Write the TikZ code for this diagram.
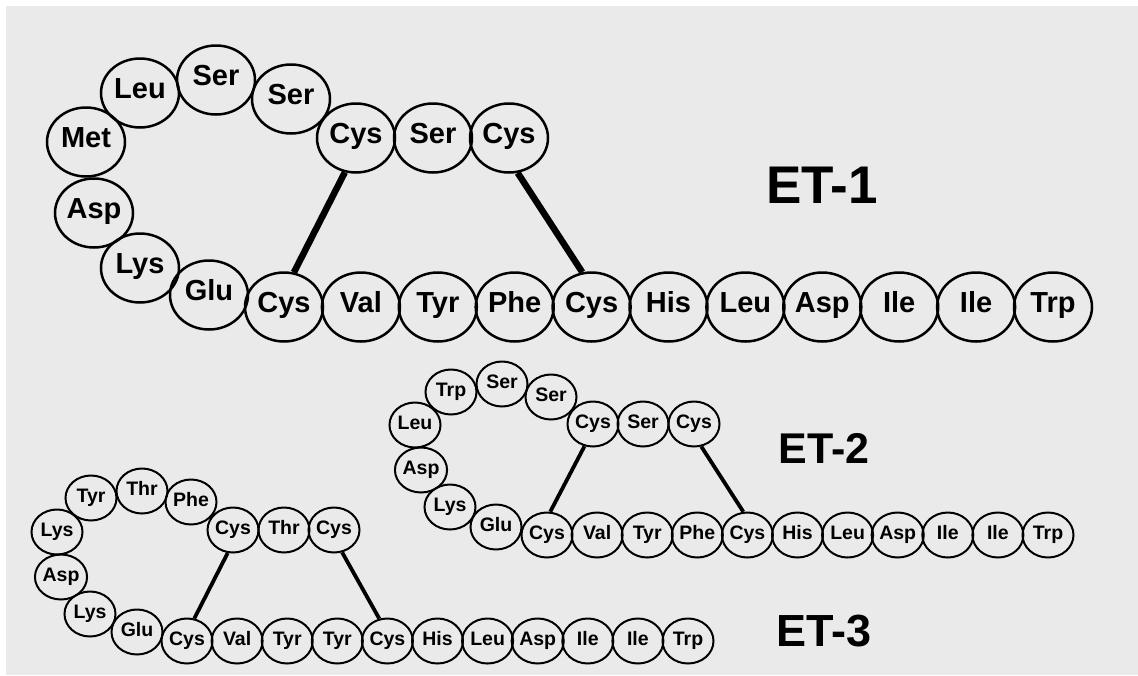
\documentclass[tikz,border=0pt]{standalone}
\usepackage{fontspec}
\setmainfont{Liberation Sans}
\usetikzlibrary{shapes.geometric}
\definecolor{paper}{RGB}{234,234,234}
\begin{document}
\begin{tikzpicture}[x=1pt,y=-1pt,
  big/.style={ellipse,draw,line width=2.5pt,minimum width=78pt,minimum height=69pt,inner sep=0pt,
    text height=1.0em,text depth=0pt,font=\fontsize{29}{29}\selectfont\bfseries},
  small/.style={ellipse,draw,line width=2pt,minimum width=51pt,minimum height=45pt,inner sep=0pt,
    text height=0.95em,text depth=0pt,font=\fontsize{19.5}{19.5}\selectfont\bfseries},
  bondA/.style={line width=6.5pt},
  bondB/.style={line width=3.8pt},
  title/.style={anchor=base,inner sep=0pt,font=\bfseries}]
\useasboundingbox (0,0) rectangle (1138,675);
\fill[white] (0,0) rectangle (1138,675);
\fill[paper] (6,6) rectangle (1138,675);

% ---------------- ET-1 ----------------
\node[big] (e1c1) at (356,138) {Cys};
\node[big] (e1s2) at (433,138) {Ser};
\node[big] (e1c3) at (509,138) {Cys};
\node[big] (e1s4) at (291,99) {Ser};
\node[big] (e1s5) at (216,80) {Ser};
\node[big] (e1l6) at (140,93) {Leu};
\node[big] (e1m7) at (86,142) {Met};
\node[big] (e1a8) at (94,213) {Asp};
\node[big] (e1k9) at (140,268) {Lys};
\node[big] (e1g10) at (209,295) {Glu};
\foreach \n/\t in {0/Cys,1/Val,2/Tyr,3/Phe,4/Cys,5/His,6/Leu,7/Asp,8/Ile,9/Ile,10/Trp}
  \node[big] (e1b\n) at ({284+76.9*\n},307) {\t};
\draw[bondA] (e1c1.-108) -- (e1b0.74);
\draw[bondA] (e1c3.-76) -- (e1b4.105);
\node[title,font=\fontsize{53}{53}\selectfont\bfseries] (t1) at (822,203) {ET-1};

% ---------------- ET-2 ----------------
\node[small] (e2c1) at (593,424) {Cys};
\node[small] (e2s2) at (643,424) {Ser};
\node[small] (e2c3) at (694,424) {Cys};
\node[small] (e2s4) at (551,397) {Ser};
\node[small] (e2s5) at (502,384) {Ser};
\node[small] (e2w6) at (451,392) {Trp};
\node[small] (e2l7) at (415,425) {Leu};
\node[small] (e2a8) at (421,470) {Asp};
\node[small] (e2k9) at (450,507) {Lys};
\node[small] (e2g10) at (496,527) {Glu};
\foreach \n/\t in {0/Cys,1/Val,2/Tyr,3/Phe,4/Cys,5/His,6/Leu,7/Asp,8/Ile,9/Ile,10/Trp}
  \node[small] (e2b\n) at ({547+50.1*\n},535) {\t};
\draw[bondB] (e2c1.-111) -- (e2b0.82);
\draw[bondB] (e2c3.-72) -- (e2b4.100);
\node[title,font=\fontsize{43}{43}\selectfont\bfseries] (t2) at (824,463) {ET-2};

% ---------------- ET-3 ----------------
\node[small] (e3c1) at (233,530) {Cys};
\node[small] (e3t2) at (284,530) {Thr};
\node[small] (e3c3) at (334,530) {Cys};
\node[small] (e3f4) at (191,502) {Phe};
\node[small] (e3t5) at (142,491) {Thr};
\node[small] (e3y6) at (91,498) {Tyr};
\node[small] (e3k7) at (57,532) {Lys};
\node[small] (e3a8) at (61,577) {Asp};
\node[small] (e3k9) at (90,614) {Lys};
\node[small] (e3g10) at (137,632) {Glu};
\foreach \n/\t in {0/Cys,1/Val,2/Tyr,3/Tyr,4/Cys,5/His,6/Leu,7/Asp,8/Ile,9/Ile,10/Trp}
  \node[small] (e3b\n) at ({187+50.1*\n},641) {\t};
\draw[bondB] (e3c1.-103) -- (e3b0.72);
\draw[bondB] (e3c3.-70) -- (e3b4.110);
\node[title,font=\fontsize{45}{45}\selectfont\bfseries] (t3) at (824,646) {ET-3};
\end{tikzpicture}
\end{document}
